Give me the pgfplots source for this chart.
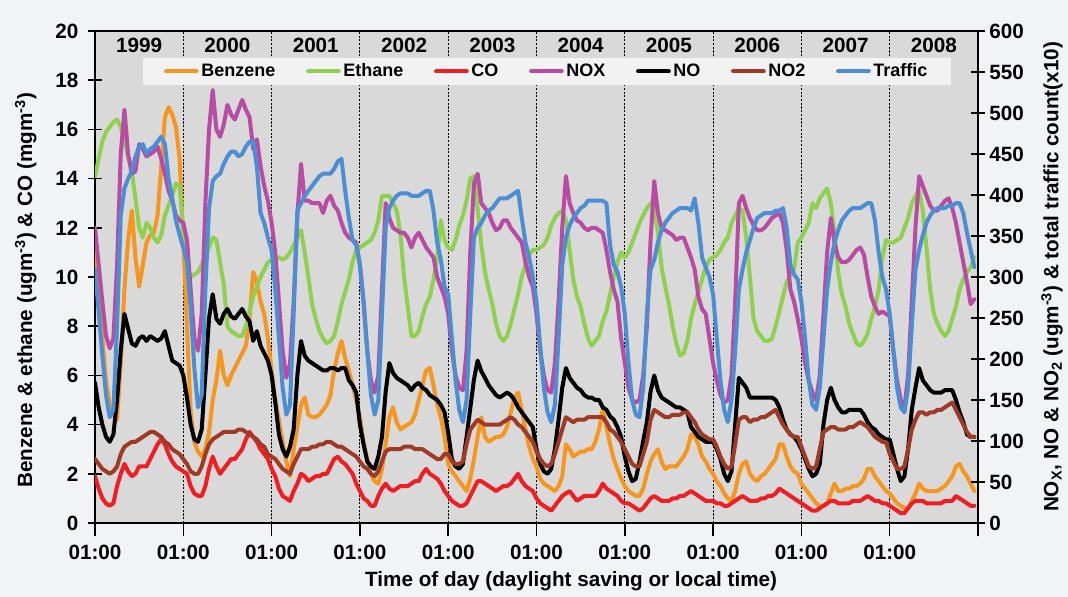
\documentclass[border=0pt]{standalone}
\usepackage{fontspec}
\setmainfont{Liberation Sans}
\usepackage{pgfplots}
\pgfplotsset{compat=1.18}
\usepackage{pgfplotstable}
\usetikzlibrary{calc,backgrounds}

\definecolor{cbenz}{HTML}{F7961E}
\definecolor{ceth}{HTML}{8FD14F}
\definecolor{cco}{HTML}{F21D23}
\definecolor{cnox}{HTML}{B84CA5}
\definecolor{cno}{HTML}{000000}
\definecolor{cno2}{HTML}{9E3A26}
\definecolor{ctraf}{HTML}{4C8ED4}
\definecolor{plotbg}{HTML}{D9D9D9}
\definecolor{legbg}{HTML}{F2F2F2}
\definecolor{outerbg}{HTML}{F1F3F5}

% left axis group: benzene, ethane (ug/m3), CO (mg/m3); g = hour index (10 days x 24 h)
\pgfplotstableread{
g benz eth co
0 11.0 14.1 1.9
1 9.5 14.8 1.4
2 7.5 15.5 1.0
3 5.8 15.9 0.8
4 4.8 16.1 0.7
5 4.4 16.3 0.8
6 4.2 16.4 1.5
7 6.5 16.1 2.0
8 9.5 15.5 2.4
9 11.5 14.9 2.1
10 12.7 14.3 1.9
11 10.8 13.2 2.0
12 9.6 12.0 2.3
13 10.5 11.6 2.3
14 11.4 12.2 2.3
15 11.7 12.0 2.6
16 11.8 11.6 2.9
17 12.5 11.4 3.2
18 14.5 11.7 3.4
19 16.5 12.5 3.2
20 16.9 12.9 2.8
21 16.6 13.3 2.5
22 16.1 13.8 2.3
23 14.8 13.7 2.2
24 11.5 11.8 2.1
25 8.0 10.4 2.0
26 4.5 10.0 1.5
27 3.3 10.1 1.2
28 2.9 10.2 1.1
29 2.7 10.5 1.1
30 3.0 10.8 1.5
31 3.7 11.2 2.2
32 5.0 11.6 2.7
33 5.8 11.5 2.3
34 7.0 10.6 2.0
35 6.0 9.7 2.2
36 5.6 8.0 2.4
37 6.0 7.8 2.6
38 6.3 7.7 2.6
39 6.6 7.6 2.8
40 6.9 7.6 3.0
41 7.2 8.0 3.4
42 8.3 8.6 3.7
43 10.2 9.2 3.5
44 9.8 9.6 3.3
45 9.0 10.0 3.0
46 8.5 10.3 2.8
47 7.5 10.6 2.6
48 6.2 10.7 2.2
49 5.0 10.8 1.9
50 4.2 10.8 1.4
51 3.3 10.7 1.1
52 2.5 10.8 1.0
53 1.9 11.0 0.9
54 3.0 11.3 1.3
55 3.9 11.6 1.6
56 4.8 11.9 2.0
57 5.1 11.0 1.9
58 4.4 10.0 1.7
59 4.3 8.9 1.8
60 4.3 8.3 1.9
61 4.4 7.8 1.9
62 4.6 7.5 2.0
63 4.8 7.3 2.0
64 5.2 7.4 2.3
65 6.2 7.6 2.6
66 6.9 8.2 2.7
67 7.4 8.9 2.5
68 6.7 9.4 2.4
69 6.2 9.9 2.2
70 5.6 10.6 2.0
71 5.0 11.1 1.6
72 4.3 11.2 1.3
73 3.3 11.3 1.0
74 2.6 11.4 0.9
75 2.0 11.5 0.7
76 1.7 11.8 0.7
77 1.6 12.3 1.1
78 2.2 13.3 1.4
79 3.2 13.3 1.6
80 4.3 13.3 1.4
81 4.7 13.0 1.3
82 4.1 12.7 1.4
83 3.8 11.8 1.5
84 3.9 10.0 1.5
85 4.0 8.8 1.5
86 4.1 7.6 1.6
87 4.4 7.6 1.7
88 5.0 7.8 1.7
89 5.6 8.4 2.0
90 6.2 8.9 2.2
91 6.3 9.2 2.0
92 5.6 9.9 1.9
93 4.8 10.8 1.8
94 4.3 12.3 1.6
95 3.5 11.5 1.3
96 2.4 11.2 1.1
97 2.1 11.1 0.9
98 1.9 11.5 0.8
99 1.7 12.1 0.7
100 1.5 12.5 0.7
101 1.3 13.1 0.8
102 1.8 14.0 1.1
103 2.6 14.1 1.4
104 3.5 12.8 1.7
105 4.3 11.3 1.7
106 3.5 10.2 1.6
107 3.3 9.5 1.5
108 3.4 8.9 1.4
109 3.5 8.1 1.3
110 3.5 7.6 1.4
111 3.6 7.4 1.5
112 3.9 7.6 1.5
113 4.5 8.1 1.6
114 5.1 8.7 1.8
115 5.3 9.3 2.0
116 4.6 10.0 1.7
117 3.8 10.5 1.5
118 3.1 10.9 1.4
119 2.6 11.1 1.3
120 2.3 11.1 1.0
121 1.8 11.2 0.8
122 1.6 11.3 0.7
123 1.5 11.6 0.6
124 1.4 12.1 0.5
125 1.3 12.4 0.7
126 1.5 12.6 0.9
127 1.9 12.7 1.1
128 3.2 12.3 1.2
129 3.0 11.1 1.3
130 2.7 9.9 1.1
131 2.8 9.2 0.9
132 2.9 8.8 1.0
133 2.9 8.1 1.1
134 3.0 7.5 1.1
135 3.0 7.2 1.1
136 3.3 7.4 1.1
137 3.8 7.6 1.3
138 4.6 8.2 1.6
139 3.9 8.6 1.4
140 3.2 9.3 1.3
141 2.6 10.0 1.2
142 2.2 10.6 1.1
143 1.8 11.0 0.9
144 1.5 10.8 0.8
145 1.3 11.0 0.8
146 1.2 11.4 0.7
147 1.1 11.8 0.6
148 1.1 12.2 0.5
149 1.4 12.5 0.6
150 2.0 12.8 0.8
151 2.5 13.0 1.0
152 2.8 12.8 1.1
153 3.0 11.8 1.0
154 2.5 10.4 0.9
155 2.2 9.6 0.9
156 2.3 8.9 0.9
157 2.3 8.0 1.0
158 2.3 7.3 1.0
159 2.5 6.8 1.1
160 2.7 6.9 1.1
161 3.0 7.4 1.2
162 3.6 8.3 1.3
163 3.5 8.9 1.2
164 3.2 9.4 1.1
165 2.7 9.9 1.0
166 2.5 10.4 0.9
167 2.2 10.7 0.9
168 2.0 10.8 0.9
169 1.7 10.9 0.8
170 1.5 11.1 0.8
171 1.2 11.4 0.7
172 1.0 11.6 0.7
173 0.9 12.2 0.8
174 1.3 12.5 0.9
175 2.0 12.8 1.0
176 2.4 12.7 1.1
177 2.5 11.6 1.0
178 2.0 10.0 0.9
179 1.8 8.3 0.9
180 1.7 7.8 0.9
181 1.9 7.6 1.0
182 2.0 7.4 1.0
183 2.2 7.4 1.1
184 2.4 7.5 1.1
185 2.6 8.0 1.2
186 3.2 8.6 1.4
187 3.2 9.2 1.3
188 2.7 9.8 1.2
189 2.3 10.1 1.1
190 2.1 10.3 1.0
191 2.0 11.4 0.9
192 1.6 11.6 0.8
193 1.4 11.9 0.7
194 1.2 12.2 0.6
195 1.0 13.0 0.5
196 0.8 12.8 0.5
197 0.7 13.2 0.6
198 0.7 13.4 0.7
199 0.8 13.6 0.8
200 1.2 13.0 0.9
201 1.6 11.8 0.9
202 1.3 10.2 0.8
203 1.3 9.3 0.8
204 1.4 8.8 0.8
205 1.4 8.1 0.8
206 1.5 7.7 0.9
207 1.5 7.3 0.9
208 1.6 7.2 0.9
209 1.8 7.4 1.0
210 2.2 7.7 1.1
211 2.2 8.3 1.0
212 1.9 8.8 0.9
213 1.7 9.5 0.9
214 1.5 10.8 0.8
215 1.3 11.5 0.8
216 1.2 11.4 0.7
217 1.0 11.4 0.6
218 0.8 11.5 0.5
219 0.7 11.6 0.4
220 0.6 12.0 0.4
221 0.6 12.4 0.6
222 0.9 13.0 0.8
223 1.2 13.3 0.9
224 1.6 13.5 0.9
225 1.4 12.7 0.9
226 1.3 11.2 0.8
227 1.3 9.5 0.8
228 1.3 8.5 0.8
229 1.3 8.1 0.8
230 1.4 7.8 0.8
231 1.5 7.6 0.9
232 1.7 7.8 0.9
233 1.9 8.3 0.9
234 2.3 8.8 1.1
235 2.4 9.5 1.0
236 2.1 9.9 0.9
237 1.9 10.2 0.8
238 1.6 10.4 0.7
239 1.3 10.8 0.7
}\lefttab

% right axis group: NOx, NO, NO2 (ug/m3), traffic (x10)
\pgfplotstableread{
g nox no no2 traf
0 360 171 78 309
1 315 141 72 258
2 270 120 66 204
3 228 105 63 156
4 213 99 60 129
5 225 108 63 138
6 315 150 69 240
7 450 210 84 375
8 504 255 93 408
9 450 237 96 420
10 426 219 99 429
11 429 216 99 447
12 462 225 102 459
13 456 228 105 462
14 447 222 108 450
15 450 228 111 456
16 453 225 111 459
17 459 222 108 465
18 444 225 105 471
19 426 234 99 462
20 405 216 96 420
21 393 198 90 396
22 375 195 87 369
23 369 192 84 351
24 366 180 78 336
25 345 153 72 318
26 285 120 63 261
27 225 102 60 189
28 210 99 60 141
29 255 114 69 156
30 390 180 84 285
31 480 250 96 384
32 528 279 102 417
33 480 249 105 423
34 471 243 108 426
35 486 255 111 438
36 510 261 111 447
37 498 252 111 453
38 492 249 111 453
39 504 255 114 447
40 516 261 114 450
41 504 252 111 459
42 495 246 108 465
43 456 222 105 465
44 468 234 102 435
45 435 216 96 378
46 411 207 93 366
47 393 198 84 348
48 366 180 81 333
49 330 147 78 285
50 270 108 72 225
51 210 90 66 165
52 177 81 63 132
53 195 93 60 144
54 270 114 72 255
55 375 180 81 381
56 438 222 90 390
57 393 204 90 399
58 393 198 90 405
59 390 195 93 411
60 390 192 93 417
61 390 189 96 423
62 378 186 96 426
63 393 186 99 426
64 399 189 99 426
65 387 189 96 432
66 381 186 93 441
67 366 189 93 444
68 354 189 90 405
69 348 174 87 372
70 345 168 84 345
71 342 159 81 339
72 315 120 75 315
73 270 96 69 270
74 210 75 66 210
75 174 69 60 156
76 159 66 57 132
77 180 81 63 150
78 285 105 75 255
79 390 160 87 360
80 372 195 90 384
81 360 183 90 393
82 357 177 90 399
83 354 174 90 402
84 354 171 93 402
85 348 168 93 402
86 336 162 93 399
87 348 168 90 399
88 354 171 90 399
89 345 165 90 402
90 336 162 87 405
91 330 156 84 405
92 324 153 81 381
93 300 150 78 342
94 288 144 78 321
95 276 135 84 288
96 255 110 84 279
97 210 78 75 225
98 180 69 72 174
99 165 66 72 138
100 162 72 75 123
101 210 105 96 150
102 330 140 114 255
103 414 175 120 348
104 426 198 126 360
105 390 185 123 366
106 384 177 120 375
107 378 168 120 381
108 366 162 120 384
109 357 156 120 390
110 360 153 120 396
111 369 156 123 396
112 369 159 126 396
113 360 156 129 399
114 354 150 126 402
115 348 141 120 405
116 342 135 117 372
117 318 129 111 342
118 300 123 105 324
119 288 117 99 300
120 255 90 87 270
121 210 72 78 216
122 180 63 72 165
123 162 60 69 135
124 159 66 72 123
125 195 90 84 144
126 270 126 99 225
127 360 165 114 315
128 423 189 129 348
129 390 177 126 363
130 378 171 123 372
131 369 165 126 378
132 366 162 126 384
133 360 156 126 387
134 357 153 129 393
135 360 153 129 393
136 360 150 129 393
137 357 150 129 393
138 354 141 129 393
139 333 138 123 390
140 306 130 114 339
141 285 126 111 315
142 270 117 105 306
143 225 105 99 288
144 195 81 90 255
145 165 63 81 195
146 150 51 72 150
147 147 54 69 132
148 150 75 69 129
149 180 100 84 165
150 240 123 99 255
151 345 160 126 309
152 417 180 138 321
153 378 162 135 342
154 360 153 132 357
155 357 150 129 366
156 354 147 129 372
157 351 144 132 378
158 345 141 132 381
159 348 141 132 384
160 348 138 135 384
161 336 135 135 384
162 324 117 129 381
163 309 111 123 396
164 276 105 114 366
165 261 102 108 324
166 255 99 105 312
167 225 99 102 300
168 195 99 102 279
169 174 90 93 225
170 156 78 81 174
171 147 60 72 138
172 150 51 66 123
173 180 63 69 150
174 270 120 96 210
175 390 177 126 285
176 399 171 129 309
177 384 165 129 330
178 372 153 123 345
179 363 153 126 360
180 357 153 126 372
181 357 153 129 375
182 360 153 129 378
183 366 153 132 378
184 372 153 135 378
185 375 150 138 381
186 378 141 129 381
187 366 126 120 384
188 333 114 114 360
189 285 108 108 315
190 270 105 105 303
191 249 99 105 297
192 225 90 93 270
193 195 78 81 225
194 174 66 69 174
195 159 57 66 144
196 150 60 69 138
197 180 72 90 165
198 255 120 111 225
199 330 150 114 285
200 372 165 117 318
201 342 150 117 342
202 324 141 114 357
203 318 135 114 369
204 318 135 114 375
205 321 138 117 381
206 327 138 117 384
207 333 138 120 384
208 336 138 123 384
209 327 132 120 387
210 300 123 117 390
211 276 117 111 390
212 264 114 105 369
213 255 108 102 330
214 258 105 99 300
215 255 102 99 285
216 252 102 84 255
217 210 84 75 210
218 174 66 66 165
219 150 51 66 141
220 141 57 69 135
221 180 90 90 165
222 270 138 114 240
223 360 165 126 309
224 423 189 135 333
225 411 174 135 351
226 399 168 132 366
227 387 162 135 375
228 381 159 135 381
229 381 159 138 384
230 387 159 138 384
231 393 162 141 384
232 396 162 144 387
233 384 162 147 387
234 366 150 138 390
235 342 135 129 390
236 318 123 120 378
237 294 108 111 354
238 267 105 105 333
239 273 105 105 312
}\righttab

\begin{document}
\begin{tikzpicture}
\pgfplotsset{
  common/.style={
    scale only axis, width=662.25pt, height=369pt,
    xmin=0, xmax=240, no markers,
    /pgf/number format/assume math mode=true,
    ticklabel style={font=\fontsize{15.5}{18}\selectfont\bfseries},
    axis line style={line width=1.1pt, black},
    tick style={line width=1.1pt, black},
    major tick length=10pt,
    every axis plot/.append style={line width=3pt, line join=round, line cap=round},
  }
}
\begin{axis}[name=ax, common,
  ymin=0, ymax=20, ytick={0,2,...,20},
  xtick={0,24,...,240},
  xticklabels={01:00,01:00,01:00,01:00,01:00,01:00,01:00,01:00,01:00,01:00,{}},
  tick pos=left, xtick align=outside, ytick align=center,
  xticklabel style={yshift=-3pt},
  yticklabel style={xshift=-4pt},
  x tick style={line width=1.1pt, black},
  axis background/.style={fill=plotbg},
]
\pgfplotsinvokeforeach{24,48,...,216}{
  \draw[black, line width=0.7pt, dash pattern=on 1.6pt off 1.2pt] (axis cs:#1,0) -- (axis cs:#1,20);
}
\node[font=\fontsize{15.5}{18}\selectfont\bfseries] at (axis cs:12,19.43) {1999};
\node[font=\fontsize{15.5}{18}\selectfont\bfseries] at (axis cs:36,19.43) {2000};
\node[font=\fontsize{15.5}{18}\selectfont\bfseries] at (axis cs:60,19.43) {2001};
\node[font=\fontsize{15.5}{18}\selectfont\bfseries] at (axis cs:84,19.43) {2002};
\node[font=\fontsize{15.5}{18}\selectfont\bfseries] at (axis cs:108,19.43) {2003};
\node[font=\fontsize{15.5}{18}\selectfont\bfseries] at (axis cs:132,19.43) {2004};
\node[font=\fontsize{15.5}{18}\selectfont\bfseries] at (axis cs:156,19.43) {2005};
\node[font=\fontsize{15.5}{18}\selectfont\bfseries] at (axis cs:180,19.43) {2006};
\node[font=\fontsize{15.5}{18}\selectfont\bfseries] at (axis cs:204,19.43) {2007};
\node[font=\fontsize{15.5}{18}\selectfont\bfseries] at (axis cs:228,19.43) {2008};
\addplot[cbenz] table[x=g, y=benz] {\lefttab};
\addplot[ceth] table[x=g, y=eth] {\lefttab};
\addplot[cco] table[x=g, y=co] {\lefttab};
\end{axis}

\begin{axis}[common,
  ymin=0, ymax=600, ytick={0,50,...,600},
  axis x line=none, axis y line*=right, ytick align=center,
  legend columns=7,
  legend cell align=left,
  legend style={at={(rel axis cs:0.512,0.918)}, anchor=center, draw=none, fill=legbg,
    font=\fontsize{13.5}{16}\selectfont\bfseries,
    inner xsep=16pt, inner ysep=2.5pt,
    /tikz/every even column/.append style={column sep=21pt}},
  legend image code/.code={\draw[#1, line width=3pt] (0pt,0pt) -- (23pt,0pt);},
]
\addlegendimage{cbenz}\addlegendentry{Benzene}
\addlegendimage{ceth}\addlegendentry{Ethane}
\addlegendimage{cco}\addlegendentry{CO}
\addplot[cnox] table[x=g, y=nox] {\righttab}; \addlegendentry{NOX}
\addplot[cno] table[x=g, y=no] {\righttab}; \addlegendentry{NO}
\addplot[cno2] table[x=g, y=no2] {\righttab}; \addlegendentry{NO2}
\addplot[ctraf] table[x=g, y=traf] {\righttab}; \addlegendentry{Traffic}
\end{axis}

\node[rotate=90, font=\fontsize{15.5}{18}\selectfont\bfseries] at ($(ax.west)+(-52pt,-10pt)$)
  {Benzene \& ethane (ugm\textsuperscript{-3}) \& CO (mgm\textsuperscript{-3})};
\node[rotate=90, font=\fontsize{15.5}{18}\selectfont\bfseries] at ($(ax.east)+(55.5pt,0pt)$)
  {NO\textsubscript{X}, NO \& NO\textsubscript{2} (ugm\textsuperscript{-3}) \& total traffic count(x10)};
\node[font=\fontsize{15.5}{18}\selectfont\bfseries] at ($(ax.south)+(26pt,-43.5pt)$)
  {Time of day (daylight saving or local time)};

\begin{scope}[on background layer]
\fill[outerbg] ($(ax.south west)+(-71.25pt,-55.5pt)$) rectangle ($(ax.north east)+(67.5pt,23.25pt)$);
\end{scope}
\pgfresetboundingbox
\path[use as bounding box] ($(ax.south west)+(-71.25pt,-55.5pt)$) rectangle ($(ax.north east)+(67.5pt,23.25pt)$);
\end{tikzpicture}
\end{document}
